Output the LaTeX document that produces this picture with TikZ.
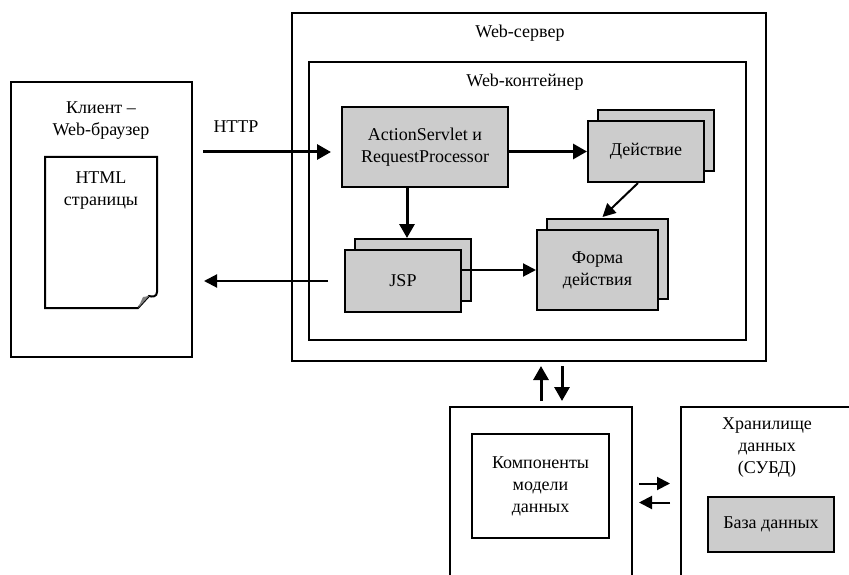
\documentclass[tikz,border=0pt]{standalone}
\usepackage{fontspec}
\setmainfont{Liberation Serif}
\usetikzlibrary{arrows.meta,shadows}

\begin{document}
\begin{tikzpicture}[x=1pt,y=-1pt,
  every node/.style={font=\fontsize{18}{22}\selectfont, align=center},
  box/.style={draw, line width=2pt, inner sep=0pt},
  graybox/.style={box, fill=black!20},
  stackbox/.style={graybox, copy shadow={shadow xshift=10pt, shadow yshift=11pt,
    fill=black!20, draw=black, line width=2pt}},
  thickarr/.style={line width=3pt, -{Triangle[length=14pt,width=15pt]}},
  thinarr/.style={line width=2pt, -{Triangle[length=13pt,width=13pt]}}]
  \useasboundingbox (0,0) rectangle (849,575);
  \clip (0,0) rectangle (849,575);

  % client side
  \node[box, minimum width=181, minimum height=275] (client) at (101.5,219.5) {};
  \node (clientlbl) at (101,121) {Клиент –\\Web-браузер};
  \draw[line width=2pt] (45,157) -- (157,157) -- (157,292)
    .. controls (157,297) and (152,297) .. (149,296) -- (138,308) -- (45,308) -- cycle;
  \fill[black!50] (138,308) -- (143,297) -- (149,296) -- cycle;
  \node (html) at (101,191) {HTML\\страницы};

  % server and container
  \node[box, minimum width=474, minimum height=348] (server) at (529,187) {};
  \node (serverlbl) at (520,33) {Web-сервер};
  \node[box, minimum width=437, minimum height=278] (cont) at (527.5,201) {};
  \node (contlbl) at (525,82) {Web-контейнер};

  \node[graybox, minimum width=166, minimum height=80] (as) at (425,147)
    {ActionServlet и\\RequestProcessor};
  \node[stackbox, minimum width=116, minimum height=61] (act) at (646,151.5) {Действие};
  \node[stackbox, minimum width=121, minimum height=80] (forma) at (597.5,270) {Форма\\действия};
  \node[stackbox, minimum width=116, minimum height=62] (jsp) at (403,281) {JSP};

  % model and storage
  \node[box, minimum width=182, minimum height=193] (model) at (541,503.5) {};
  \node[box, minimum width=137, minimum height=104] (comp) at (540.5,486)
    {Компоненты\\модели\\данных};
  \node[box, minimum width=189, minimum height=193] (store) at (775.5,503.5) {};
  \node (storelbl) at (767,448) {Хранилище\\данных\\(СУБД)};
  \node[graybox, minimum width=126, minimum height=55] (db) at (771,524.5) {База данных};

  % connectors
  \coordinate (httpin) at (203,152);
  \node (http) at (236,127) {HTTP};
  \draw[thickarr] (httpin) -- ([xshift=-10pt]as.west |- httpin);
  \draw[thickarr] (as.east |- act.west) -- (act.west);
  \draw[thickarr] ([xshift=-18pt]as.south) -- ([xshift=-18pt,yshift=11pt]as.south |- jsp.north);
  \draw[thinarr] ([xshift=-8pt]act.south) -- ([xshift=5pt,yshift=12pt]forma.north);
  \draw[thinarr] (jsp.east |- forma.west) -- (forma.west);
  \draw[thinarr] ([xshift=-16pt]jsp.west) -- ([xshift=11pt]client.east |- jsp.west);

  \draw[thickarr] ([yshift=5pt]model.north) -- ([yshift=-4pt]model.north |- server.south);
  \draw[thickarr] ([xshift=21pt,yshift=-4pt]model.north |- server.south) -- ([xshift=21pt,yshift=5pt]model.north);
  \draw[thinarr] ([xshift=6pt,yshift=20pt]model.east) -- ([xshift=-10pt,yshift=20pt]model.east -| store.west);
  \draw[thinarr] ([xshift=-10pt,yshift=1pt]model.east -| store.west) -- ([xshift=6pt,yshift=1pt]model.east);
\end{tikzpicture}
\end{document}
